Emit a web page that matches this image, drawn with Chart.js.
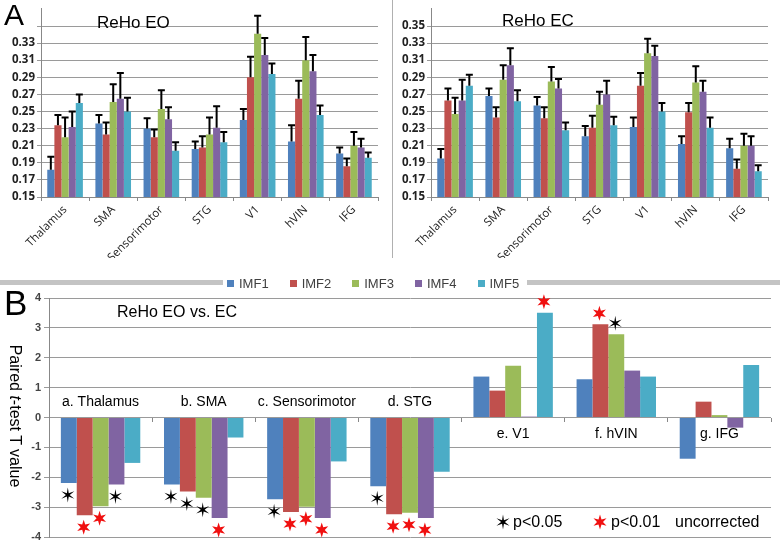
<!DOCTYPE html>
<html>
<head>
<meta charset="utf-8">
<script src="https://cdn.jsdelivr.net/npm/chart.js@4"></script>
<style>
body{margin:0;background:#fff;width:780px;height:548px;overflow:hidden;position:relative;font-family:"Liberation Sans",Arial,sans-serif}
canvas{position:absolute}
.t{position:absolute;line-height:1;white-space:nowrap;color:#000}
.sep{position:absolute;background:#c4c4c4}
#legend{position:absolute;left:227px;top:277px;display:flex;gap:21px;font-size:13px;color:#404040;line-height:13px}
#legend span.box{display:inline-block;width:7px;height:7px;margin-right:5px;vertical-align:1px}
</style>
</head>
<body>
<canvas id="eo" width="390" height="258" style="left:0;top:0"></canvas>
<canvas id="ec" width="390" height="258" style="left:390px;top:0"></canvas>
<canvas id="tt" width="780" height="278" style="left:0;top:270px"></canvas>

<div class="sep" style="left:392px;top:0;width:1px;height:258px;background:#b0b0b0"></div>
<div class="sep" style="left:0;top:280px;width:223px;height:5px"></div>
<div class="sep" style="left:527px;top:280px;width:253px;height:5px"></div>
<div id="legend"></div>

<div class="t" style="left:4px;top:0;font-size:30px">A</div>
<div class="t" style="left:4px;top:285px;font-size:35px">B</div>
<div class="t" style="left:97px;top:14px;font-size:17px">ReHo EO</div>
<div class="t" style="left:502px;top:12px;font-size:17px">ReHo EC</div>
<div class="t" style="left:117px;top:304px;font-size:16px">ReHo EO vs. EC</div>
<div class="t" style="left:15px;top:416px;font-size:16px;transform:translate(-50%,-50%) rotate(90deg)">Paired <i>t</i>-test T value</div>

<script>
// regions and series
const regions = ["Thalamus","SMA","Sensorimotor","STG","V1","hVIN","IFG"]
const regionsB = ["a. Thalamus","b. SMA","c. Sensorimotor","d. STG","e. V1","f. hVIN","g. IFG"]
const series = ["IMF1","IMF2","IMF3","IMF4","IMF5"]
const colors = ["#4F81BD","#C0504D","#9BBB59","#8064A2","#4BACC6"]

// ReHo, eyes open (mean per IMF)
const eoIMF1 = [0.182,0.236,0.230,0.206,0.240,0.215,0.201]
const eoIMF2 = [0.234,0.223,0.220,0.208,0.290,0.265,0.186]
const eoIMF3 = [0.220,0.261,0.253,0.223,0.341,0.310,0.210]
const eoIMF4 = [0.232,0.265,0.241,0.231,0.316,0.297,0.208]
const eoIMF5 = [0.260,0.250,0.204,0.214,0.294,0.246,0.196]
// error bars (upper only)
const eoErr1 = [0.015,0.010,0.012,0.009,0.013,0.019,0.007]
const eoErr2 = [0.012,0.014,0.009,0.013,0.024,0.021,0.009]
const eoErr3 = [0.023,0.021,0.022,0.020,0.021,0.027,0.016]
const eoErr4 = [0.018,0.030,0.014,0.025,0.020,0.019,0.010]
const eoErr5 = [0.010,0.016,0.010,0.012,0.012,0.011,0.006]

// ReHo, eyes closed
const ecIMF1 = [0.195,0.268,0.257,0.221,0.232,0.212,0.207]
const ecIMF2 = [0.263,0.243,0.242,0.231,0.280,0.249,0.183]
const ecIMF3 = [0.247,0.287,0.285,0.258,0.318,0.284,0.210]
const ecIMF4 = [0.263,0.304,0.277,0.270,0.315,0.273,0.210]
const ecIMF5 = [0.280,0.262,0.228,0.234,0.250,0.231,0.180]
const ecErr1 = [0.011,0.009,0.010,0.012,0.011,0.009,0.011]
const ecErr2 = [0.014,0.012,0.013,0.014,0.015,0.011,0.011]
const ecErr3 = [0.019,0.017,0.017,0.015,0.017,0.019,0.014]
const ecErr4 = [0.024,0.020,0.011,0.016,0.012,0.013,0.011]
const ecErr5 = [0.013,0.013,0.009,0.010,0.010,0.012,0.007]

// paired t values EO vs EC
const tIMF1 = [-2.19,-2.24,-2.74,-2.30,1.37,1.28,-1.38]
const tIMF2 = [-3.27,-2.48,-3.16,-3.24,0.90,3.12,0.53]
const tIMF3 = [-2.97,-2.69,-2.99,-3.19,1.73,2.79,0.08]
const tIMF4 = [-2.24,-3.36,-3.36,-3.36,0.03,1.57,-0.34]
const tIMF5 = [-1.52,-0.67,-1.47,-1.82,3.51,1.37,1.76]
// 0 = n.s., 1 = p<0.05, 2 = p<0.01
const sig1 = [1,1,1,1,0,0,0]
const sig2 = [2,1,2,2,0,2,0]
const sig3 = [2,1,2,2,0,1,0]
const sig4 = [1,2,2,2,0,0,0]
const sig5 = [0,0,0,0,2,0,0]

const yTicksA = [0.15,0.17,0.19,0.21,0.23,0.25,0.27,0.29,0.31,0.33,0.35]

// legend in the middle
const legend = document.getElementById("legend")
series.forEach((s,i)=>{
  const item = document.createElement("div")
  item.innerHTML = '<span class="box" style="background:'+colors[i]+'"></span>'+s
  legend.appendChild(item)
})

const errorBars = {
  id:"errorBars",
  afterDatasetsDraw(chart){
    const ctx = chart.ctx
    const y = chart.scales.y
    ctx.save()
    ctx.strokeStyle = "#000"
    ctx.lineWidth = 2
    chart.data.datasets.forEach((ds,i)=>{
      chart.getDatasetMeta(i).data.forEach((bar,j)=>{
        const top = y.getPixelForValue(ds.data[j]+ds.errors[j])
        ctx.beginPath()
        ctx.moveTo(bar.x,bar.y)
        ctx.lineTo(bar.x,top)
        ctx.moveTo(bar.x-3.5,top)
        ctx.lineTo(bar.x+3.5,top)
        ctx.stroke()
      })
    })
    ctx.restore()
  }
}

function makeA(id,vals,errs,showTop){
  return new Chart(document.getElementById(id),{
    type:"bar",
    data:{
      labels:regions,
      datasets:series.map((s,i)=>({
        label:s,
        data:vals[i],
        errors:errs[i],
        backgroundColor:colors[i],
        barPercentage:1,
        categoryPercentage:0.74
      }))
    },
    options:{
      responsive:false,
      animation:false,
      layout:{padding:{top:1,right:12,left:0,bottom:0}},
      plugins:{legend:{display:false},tooltip:{enabled:false}},
      scales:{
        x:{
          ticks:{minRotation:45,maxRotation:45,color:"#222",padding:2,
            font:{family:"Open Sans",size:11.5}},
          grid:{drawOnChartArea:false,tickLength:4,color:"#888"},
          border:{color:"#888"},
          afterFit:s=>{s.height=61}
        },
        y:{
          min:0.15,max:0.37,
          afterBuildTicks:s=>{s.ticks=yTicksA.concat([0.37]).map(v=>({value:v}))},
          ticks:{color:"#222",padding:2,font:{family:"Open Sans",size:11.5,weight:"bold"},
            callback:v=>(v>0.36||(!showTop&&v>0.34))?"":v.toFixed(2)},
          grid:{color:c=>c.tick&&c.tick.value>0.36?"rgba(0,0,0,0)":"#9a9a9a",tickLength:4},
          border:{color:"#888"},
          afterFit:s=>{s.width=41}
        }
      }
    },
    plugins:[errorBars]
  })
}

makeA("eo",[eoIMF1,eoIMF2,eoIMF3,eoIMF4,eoIMF5],[eoErr1,eoErr2,eoErr3,eoErr4,eoErr5],false)
makeA("ec",[ecIMF1,ecIMF2,ecIMF3,ecIMF4,ecIMF5],[ecErr1,ecErr2,ecErr3,ecErr4,ecErr5],true)

function star(ctx,x,y,n,rOut,rIn,color){
  ctx.beginPath()
  for(let k=0;k<n*2;k++){
    const r = k%2 ? rIn : rOut
    const a = -Math.PI/2 + k*Math.PI/n
    ctx.lineTo(x+r*Math.cos(a),y+r*Math.sin(a))
  }
  ctx.closePath()
  ctx.fillStyle = color
  ctx.fill()
}
function sigStar(ctx,x,y,level){
  if(level==1) star(ctx,x,y,6,7.5,1.9,"#000")
  else star(ctx,x,y,6,7.5,3,"#f01010")
}

const sigs = [sig1,sig2,sig3,sig4,sig5]

const tPlugin = {
  id:"tPlugin",
  afterDatasetsDraw(chart){
    const ctx = chart.ctx
    const x = chart.scales.x
    const y = chart.scales.y
    ctx.save()
    // significance marks
    chart.data.datasets.forEach((ds,i)=>{
      chart.getDatasetMeta(i).data.forEach((bar,j)=>{
        const lvl = sigs[i][j]
        if(!lvl) return
        const v = ds.data[j]
        const py = y.getPixelForValue(v) + (v<0 ? 12 : -11)
        sigStar(ctx,bar.x-1,py,lvl)
      })
    })
    // region labels
    ctx.fillStyle = "#000"
    ctx.font = '14px "Liberation Sans", Arial, sans-serif'
    ctx.textAlign = "center"
    ctx.textBaseline = "middle"
    regionsB.forEach((r,j)=>{
      const up = chart.data.datasets.some(ds=>ds.data[j]>0.5)
      ctx.fillText(r,x.getPixelForValue(j),y.getPixelForValue(up?-0.57:0.5))
    })
    // significance legend
    ctx.font = '16px "Liberation Sans", Arial, sans-serif'
    ctx.textAlign = "left"
    sigStar(ctx,503,252,1)
    sigStar(ctx,600,252,2)
    ctx.fillStyle = "#000"
    ctx.fillText("p<0.05",513,253)
    ctx.fillText("p<0.01",611,253)
    ctx.fillText("uncorrected",675,253)
    ctx.restore()
  }
}

const tSets = [tIMF1,tIMF2,tIMF3,tIMF4,tIMF5]

new Chart(document.getElementById("tt"),{
  type:"bar",
  data:{
    labels:regionsB,
    datasets:series.map((s,i)=>({
      label:s,
      data:tSets[i],
      backgroundColor:colors[i],
      barPercentage:1,
      categoryPercentage:0.77
    }))
  },
  options:{
    responsive:false,
    animation:false,
    layout:{padding:{top:28,right:9,bottom:11,left:0}},
    plugins:{legend:{display:false},tooltip:{enabled:false}},
    scales:{
      x:{
        position:{y:0},
        ticks:{display:false},
        grid:{drawOnChartArea:false,tickLength:4,color:"#888"},
        border:{display:false},
        afterFit:s=>{s.height=0}
      },
      y:{
        min:-4,max:4,
        ticks:{stepSize:1,color:"#444",padding:3,font:{size:11,weight:"bold"}},
        grid:{color:"#9a9a9a",tickLength:5},
        border:{color:"#888"},
        afterFit:s=>{s.width=49}
      }
    }
  },
  plugins:[tPlugin]
})
</script>
</body>
</html>
